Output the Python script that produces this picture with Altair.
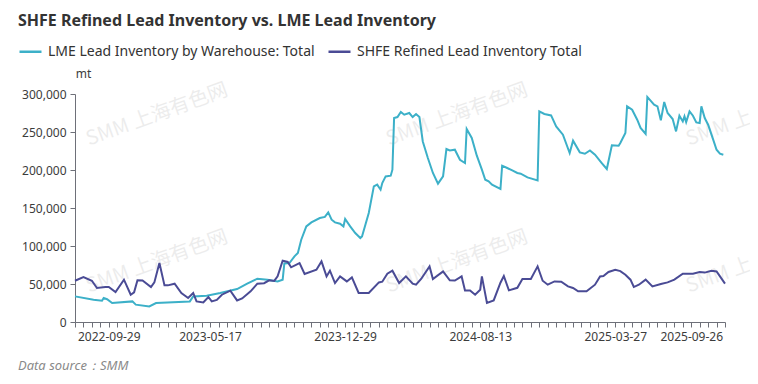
import altair as alt
import pandas as pd

title_text = "SHFE Refined Lead Inventory vs. LME Lead Inventory"
source_text = "Data source：SMM"
unit_text = "mt"
watermark_text = "SMM 上海有色网"
series_names = ["LME Lead Inventory by Warehouse: Total", "SHFE Refined Lead Inventory Total"]
series_colors = ["#3cb0c8", "#4a4b95"]

# category positions (index along the category axis) and tick labels
tick_label_idx = [20, 80, 160, 240, 320, 365]
tick_labels = ["2022-09-29", "2023-05-17", "2023-12-29", "2024-08-13", "2025-03-27", "2025-09-26"]
y_ticks = [0, 50000, 100000, 150000, 200000, 250000, 300000]

lme_idx = [0, 11, 16, 17, 19, 22, 34, 36, 44, 48, 68, 70, 78, 86, 96, 102, 108, 114, 120, 123,
           124, 127, 130, 132, 134, 137, 140, 145, 148, 150, 152, 154, 157, 159, 160, 163, 166, 169, 170, 174,
           177, 179, 181, 182, 184, 187, 188, 189, 191, 193, 195, 198, 200, 202, 204, 206, 209, 212, 215, 218,
           220, 222, 225, 228, 231, 232, 235, 238, 241, 243, 245, 247, 252, 253, 256, 259, 262, 264, 268, 274,
           275, 278, 282, 285, 289, 293, 295, 299, 302, 305, 308, 312, 315, 318, 322, 323, 326, 327, 330, 333,
           335, 338, 339, 343, 345, 347, 349, 351, 354, 356, 358, 360, 361, 362, 364, 366, 368, 370, 371, 373,
           375, 378, 380, 382, 384]
lme_val = [33700, 29300, 28000, 31600, 30000, 25000, 27100, 22800, 20500, 25000, 27100, 33700, 34600, 38200, 43400, 50400, 57000, 55700, 53400, 55700,
           77000, 77600, 86300, 90800, 108300, 125800, 131100, 136800, 138200, 144200, 134600, 131100, 129300, 125800, 135500, 125800, 117100, 110500, 112600, 143400,
           178400, 180700, 174100, 182900, 191600, 192500, 200400, 268400, 269700, 276300, 272800, 275000, 269700, 273700, 269700, 237600, 215800, 196100, 182000, 191600,
           227600, 225800, 226700, 213500, 209200, 253900, 242100, 218800, 200400, 187200, 185000, 180700, 175000, 205700, 202600, 199500, 196100, 195100, 190300, 186300,
           277100, 273700, 271800, 257400, 246400, 222400, 238600, 223200, 221400, 225800, 220100, 209200, 201300, 232400, 232000, 235500, 248700, 283700, 279300, 266200,
           255300, 247400, 296100, 285900, 283700, 265300, 289500, 275000, 267100, 250800, 271400, 263900, 270500, 263000, 277100, 271400, 262600, 261800, 283700, 268400,
           259600, 239900, 226700, 221400, 220100]

shfe_idx = [0, 5, 10, 13, 18, 20, 24, 29, 33, 35, 37, 40, 45, 47, 50, 53, 55, 59, 63, 67,
            70, 72, 76, 79, 81, 84, 87, 92, 96, 99, 104, 108, 112, 115, 118, 120, 123, 126, 128, 133,
            136, 143, 146, 149, 151, 154, 157, 161, 164, 168, 174, 180, 182, 185, 188, 192, 196, 200, 202, 205,
            210, 212, 218, 222, 225, 229, 231, 234, 237, 240, 241, 244, 248, 252, 254, 257, 262, 265, 270, 274,
            277, 280, 284, 288, 292, 295, 298, 303, 308, 311, 313, 316, 320, 323, 326, 329, 331, 334, 338, 342,
            347, 351, 355, 360, 366, 370, 373, 377, 380, 385]
shfe_val = [54300, 59200, 54300, 44700, 46000, 46000, 39500, 55700, 35900, 39000, 54800, 54500, 46000, 52100, 77600, 48200, 48200, 50400, 38200, 31600,
            38200, 27100, 25800, 32900, 27100, 29000, 35900, 41200, 28400, 31000, 40300, 50400, 51000, 54800, 54000, 60000, 80700, 79000, 72000, 77600,
            63200, 68800, 79700, 60000, 67500, 51300, 60000, 53400, 58700, 38200, 38200, 52100, 53000, 63600, 67500, 51300, 60000, 50400, 49100, 56600,
            73200, 56600, 66600, 54800, 54500, 60000, 41600, 41600, 35900, 42500, 60000, 25000, 28400, 51700, 60500, 41600, 45000, 56600, 56600, 73200,
            54300, 49100, 53400, 53000, 46800, 44700, 40300, 40300, 49100, 60000, 60500, 65800, 68800, 67000, 62200, 55700, 46000, 49100, 55700, 46800,
            50000, 52100, 55700, 63600, 63600, 65800, 65000, 67500, 66600, 50500]

# ---------------------------------------------------------------- data table
df = pd.concat([
    pd.DataFrame({"idx": lme_idx, "value": lme_val, "series": series_names[0]}),
    pd.DataFrame({"idx": shfe_idx, "value": shfe_val, "series": series_names[1]}),
], ignore_index=True)

label_expr = " : ".join(f"datum.value == {i} ? '{t}'" for i, t in zip(tick_label_idx, tick_labels)) + " : ''"

FONT = "Noto Sans"
AXIS_COLOR = "#6e7079"
LABEL_COLOR = "#3c3c3c"

x_enc = alt.X(
    "idx:Q",
    scale=alt.Scale(domain=[0, 385], nice=False, zero=False),
    axis=alt.Axis(
        values=list(range(0, 386, 5)), labelExpr=label_expr, title=None, grid=False,
        domainColor=AXIS_COLOR, tickColor=AXIS_COLOR, tickSize=5, labelPadding=4,
        labelColor=LABEL_COLOR, labelFontSize=12, labelFont=FONT, labelOverlap=False,
        labelFlush=False, domainWidth=1,
    ),
)
y_enc = alt.Y(
    "value:Q",
    scale=alt.Scale(domain=[0, 300000], nice=False),
    axis=alt.Axis(
        values=y_ticks, format=",.0f", grid=False, title=unit_text, titleAngle=0,
        titleAlign="center", titleBaseline="middle", titleX=8, titleY=-21,
        titleFontSize=12, titleFontWeight="normal", titleColor=LABEL_COLOR, titleFont=FONT,
        domainColor=AXIS_COLOR, tickColor=AXIS_COLOR, tickSize=5, labelPadding=4,
        labelColor=LABEL_COLOR, labelFontSize=12, labelFont=FONT, domainWidth=1,
    ),
)
color_enc = alt.Color(
    "series:N",
    scale=alt.Scale(domain=series_names, range=series_colors),
    legend=alt.Legend(
        title=None, orient="none", legendX=-57, legendY=-55, direction="horizontal",
        symbolType="stroke", symbolSize=484, symbolStrokeWidth=2.5, labelFontSize=14,
        labelFont=FONT, labelColor="#333333", labelLimit=0, labelOffset=5, columnPadding=8,
    ),
)

lines = alt.Chart(df).mark_line(strokeWidth=2).encode(x=x_enc, y=y_enc, color=color_enc)

PLOT_LEFT, PLOT_TOP = 75, 94.3
one = pd.DataFrame({"k": [0]})

wm_layers = []
for cx in [157, 457, 757]:
    for cy in [115, 262]:
        wm_layers.append(
            alt.Chart(one).mark_text(
                text=watermark_text, font="Noto Sans CJK SC", fontSize=20, angle=340,
                color="#000000", opacity=0.07, align="center", baseline="middle",
            ).encode(x=alt.value(cx - PLOT_LEFT), y=alt.value(cy - PLOT_TOP))
        )

title = alt.Chart(one).mark_text(
    text=title_text, font=FONT, fontSize=16, fontWeight="bold", color="#333333",
    align="left", baseline="middle",
).encode(x=alt.value(18 - PLOT_LEFT), y=alt.value(21 - PLOT_TOP))

source = alt.Chart(one).mark_text(
    text=source_text, font=FONT, fontSize=13, fontStyle="italic", color="#8a8a8a",
    align="left", baseline="middle",
).encode(x=alt.value(18 - PLOT_LEFT), y=alt.value(366 - PLOT_TOP))

chart = alt.layer(*wm_layers, lines, title, source).properties(
    width=650, height=228,
    autosize=alt.AutoSizeParams(type="none"),
    padding={"left": 67, "top": 86, "right": 25, "bottom": 54},
    background="white",
).configure_view(stroke=None)

chart.save("out.html", embed_options={"renderer": "svg", "actions": False})
